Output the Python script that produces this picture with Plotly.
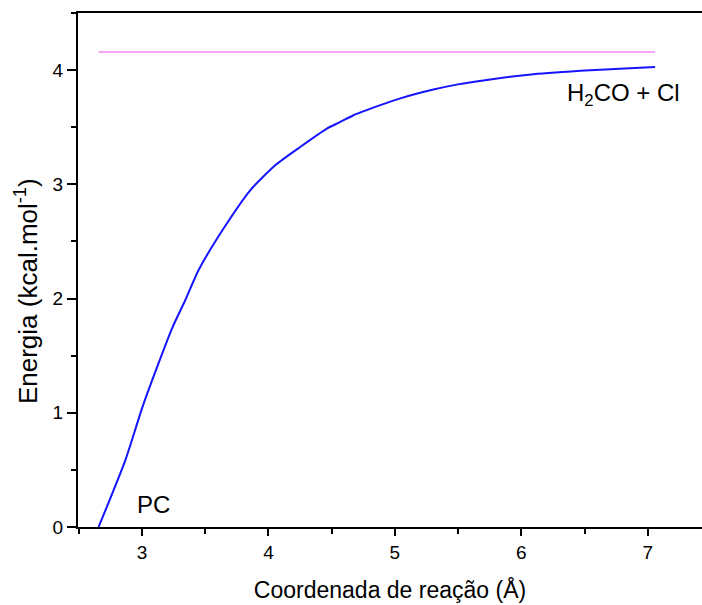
import plotly.graph_objects as go

# Data
x_curve = [2.657, 2.868, 3.013, 3.237, 3.342, 3.447, 3.645, 3.856, 4.054, 4.251,
           4.462, 4.568, 4.673, 4.885, 5.05, 5.305, 5.50, 5.70, 6.096, 6.544, 7.058]
y_curve = [0.0, 0.584, 1.08, 1.737, 1.985, 2.248, 2.613, 2.948, 3.167, 3.327,
           3.488, 3.546, 3.605, 3.693, 3.755, 3.83, 3.875, 3.91, 3.964, 3.999, 4.028]

x_ref = [2.657, 7.058]
y_ref = [4.159, 4.159]

x_ticks = [3, 4, 5, 6, 7]
y_ticks = [0, 1, 2, 3, 4]

FONT = "Liberation Sans, Arial, sans-serif"

fig = go.Figure()
fig.add_trace(go.Scatter(x=x_ref, y=y_ref, mode="lines",
                         line=dict(color="#f7a6f7", width=2), showlegend=False))
fig.add_trace(go.Scatter(x=x_curve, y=y_curve, mode="lines",
                         line=dict(color="#1414ff", width=2, shape="spline", smoothing=0.6),
                         showlegend=False))

fig.add_annotation(x=3.095, y=0.2, text="PC", showarrow=False,
                   font=dict(family=FONT, size=24, color="#000"),
                   xanchor="center", yanchor="middle")
fig.add_annotation(x=6.81, y=3.79, text="H<sub>2</sub>CO + Cl", showarrow=False,
                   font=dict(family=FONT, size=24, color="#000"),
                   xanchor="center", yanchor="middle")
# y-axis title (as annotation to match the reference's vertical placement)
fig.add_annotation(xref="paper", yref="paper", x=0, y=0.459, xshift=-52,
                   text="Energia (kcal.mol<sup>-1</sup>)", textangle=-90, showarrow=False,
                   font=dict(family=FONT, size=26, color="#000"),
                   xanchor="center", yanchor="middle")

fig.update_layout(
    width=702, height=605,
    margin=dict(l=78, r=0, t=13, b=78),
    paper_bgcolor="white", plot_bgcolor="white",
    font=dict(family=FONT, color="#000"),
    xaxis=dict(range=[2.494, 7.429], tickvals=x_ticks, ticks="outside", ticklen=7,
               tickwidth=2, tickcolor="#000", showline=True, linecolor="#000",
               linewidth=2, mirror=True, showgrid=False, zeroline=False,
               tickfont=dict(size=19),
               minor=dict(ticks="outside", ticklen=5, tickwidth=2, tickcolor="#000",
                          dtick=0.5, tick0=0, showgrid=False),
               title=dict(text="Coordenada de reação (Å)", font=dict(size=23), standoff=20)),
    yaxis=dict(range=[0, 4.5], tickvals=y_ticks, ticks="outside", ticklen=9,
               tickwidth=2, tickcolor="#000", showline=True, linecolor="#000",
               linewidth=2, showgrid=False, zeroline=False,
               tickfont=dict(size=19),
               minor=dict(ticks="outside", ticklen=5, tickwidth=2, tickcolor="#000",
                          dtick=0.5, tick0=0, showgrid=False)),
)

fig.write_html("out.html")
